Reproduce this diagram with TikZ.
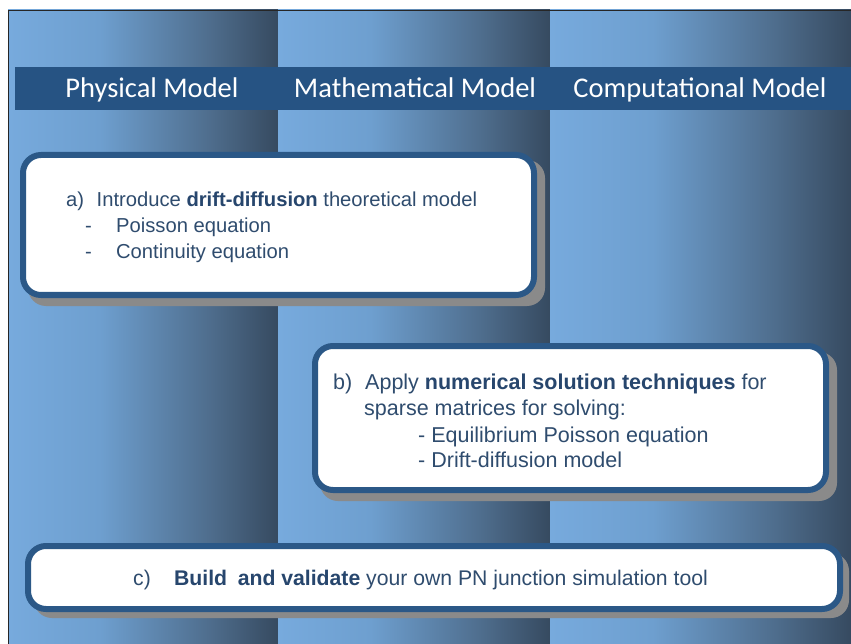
\documentclass[tikz,border=0pt]{standalone}
\usepackage{fontspec}
\setmainfont{Liberation Sans}
\newfontfamily\hdrfont{Carlito}
\definecolor{gA}{HTML}{77AADD}
\definecolor{gB}{HTML}{6E9FCF}
\definecolor{gC}{HTML}{4F6E8E}
\definecolor{gD}{HTML}{364A60}
\definecolor{band}{HTML}{265383}
\definecolor{boxline}{HTML}{2B5887}
\definecolor{shadowc}{HTML}{8A8A8A}
\definecolor{txt}{HTML}{2F4C6E}
\definecolor{txtb}{HTML}{27466D}
\pgfdeclarehorizontalshading{colgrad}{100bp}{color(0bp)=(gA); color(25bp)=(gA); color(42bp)=(gB); color(62bp)=(gC); color(75bp)=(gD); color(100bp)=(gD)}
\tikzset{
  colbg/.style={shading=colgrad, draw=none},
  shadowbox/.style={fill=shadowc, draw=none, rounded corners=18pt},
  mainbox/.style={fill=white, draw=boxline, line width=6pt, rounded corners=18pt},
  hdr/.style={font=\hdrfont\fontsize{28.5}{32}\selectfont, text=white, inner sep=0pt, anchor=base},
  body/.style={text=txt, inner sep=0pt, anchor=base west},
  bodya/.style={body, font=\fontsize{20.2}{24}\selectfont},
  bodyb/.style={body, font=\fontsize{21.5}{25}\selectfont},
  bodyc/.style={body, font=\fontsize{21.2}{25}\selectfont},
}
\newcommand{\hb}[1]{\textbf{\color{txtb}#1}}
\begin{document}
\begin{tikzpicture}[x=1pt,y=-1pt]
\useasboundingbox (0,0) rectangle (851,644);
% columns
\shade[colbg] (8,10) rectangle (278,644);
\shade[colbg] (278,10) rectangle (550,644);
\shade[colbg] (550,10) rectangle (851,644);
\draw[line width=1pt, color=black!85] (8.5,644) -- (8.5,10.5) -- (851,10.5);
% header band
\fill[band] (15,67) rectangle (851,110);
\node[hdr] (h1) at (152,98) {Physical Model};
\node[hdr] (h2) at (415,98) {Mathematical Model};
\node[hdr] (h3) at (700,98) {Computational Model};
% box a
\fill[shadowbox] (28,160) rectangle (545,306);
\draw[mainbox] (23,155) rectangle (534,295);
\node[bodya] (a1) at (66,207) {a)\hspace{0.62em}Introduce \hb{drift-diffusion} theoretical model};
\node[bodya] (a2) at (85,233) {-\hspace{1.2em}Poisson equation};
\node[bodya] (a3) at (85,259) {-\hspace{1.2em}Continuity equation};
% box b
\fill[shadowbox] (320,352) rectangle (837,501);
\draw[mainbox] (315,346) rectangle (826,490);
\node[bodyb] (b1) at (333,389) {b)\hspace{0.6em}Apply \hb{numerical solution techniques} for};
\node[bodyb] (b2) at (364,415) {sparse matrices for solving:};
\node[bodyb] (b3) at (418,442) {- Equilibrium Poisson equation};
\node[bodyb] (b4) at (418,467) {- Drift-diffusion model};
% box c
\fill[shadowbox] (34,553) rectangle (849,618);
\draw[mainbox] (28,546) rectangle (840,609);
\node[bodyc] (c1) at (133,585) {c)\hspace{1.1em}\hb{Build\hspace{0.5em}and validate} your own PN junction simulation tool};
\end{tikzpicture}
\end{document}
